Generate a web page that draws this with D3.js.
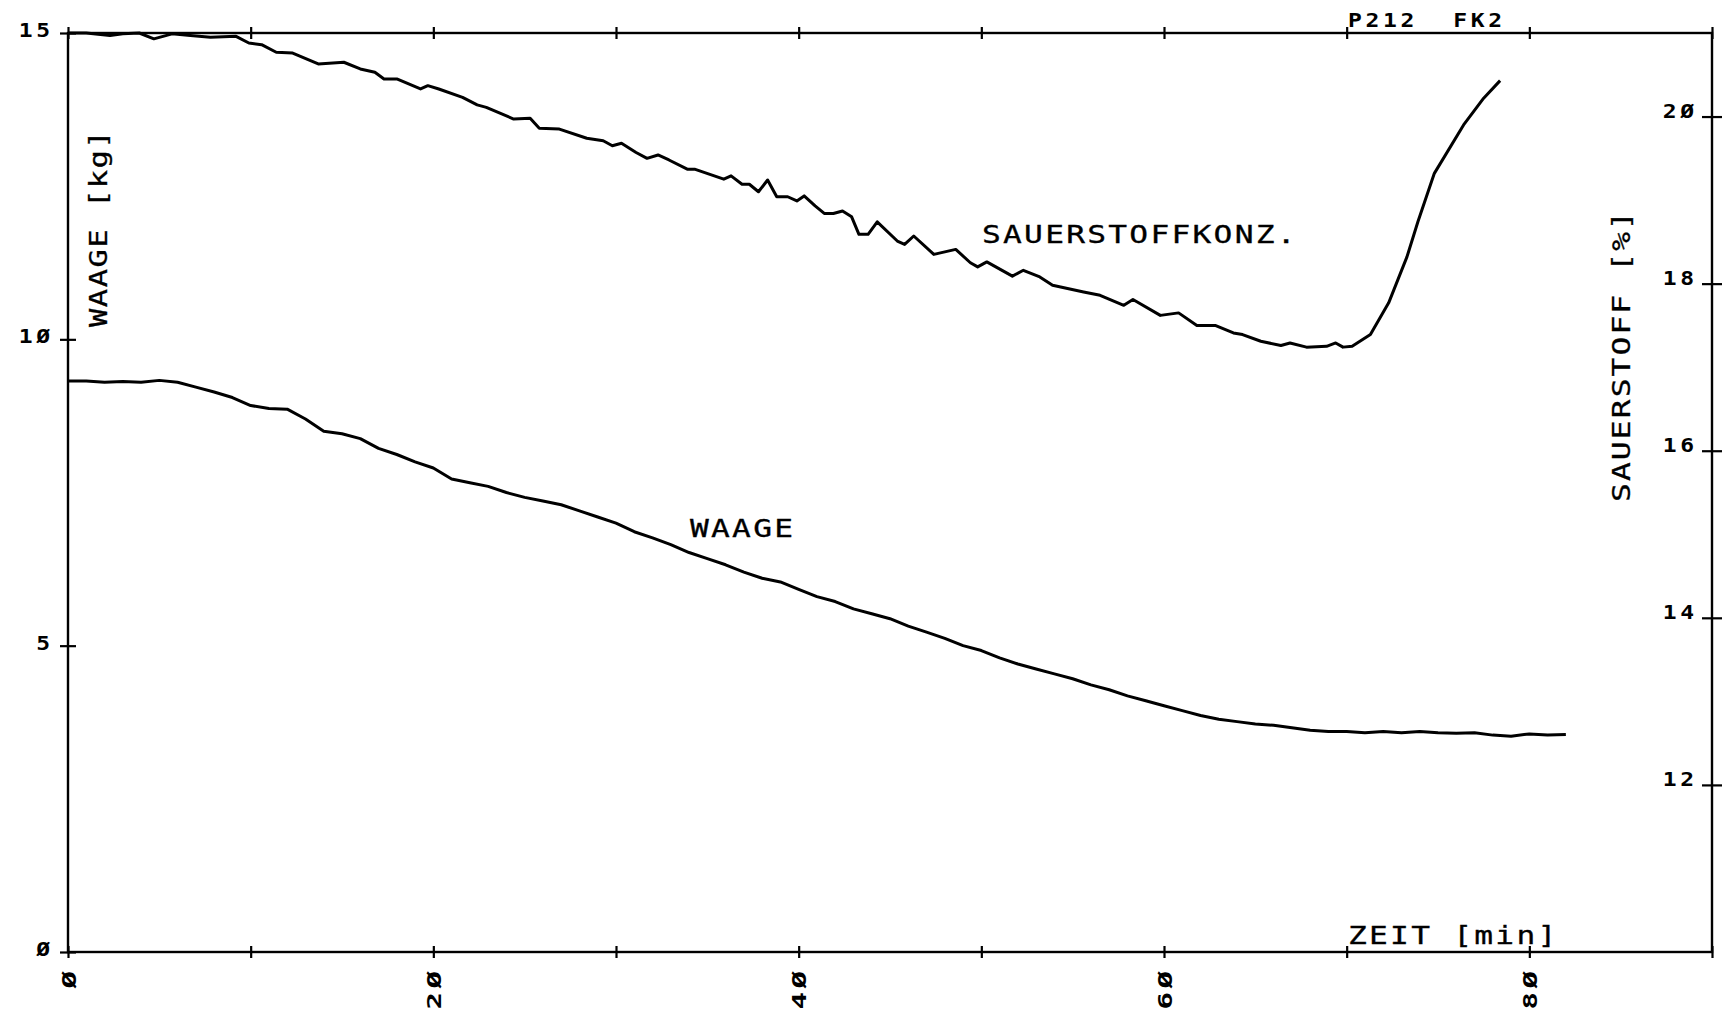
<!DOCTYPE html>
<html>
<head>
<meta charset="utf-8">
<script src="https://cdn.jsdelivr.net/npm/d3@7"></script>
<style>
  body { margin: 0; background: #fff; }
  svg { display: block; }
  text { font-family: "DejaVu Sans Mono", monospace; fill: #000; white-space: pre; }
  .tick line { stroke: #000; stroke-width: 2.2; }
  .tick text { display: none; }
  .domain { display: none; }
</style>
</head>
<body>
<div id="chart"></div>
<script>
// WAAGE [kg] over ZEIT [min]
var waageTime = [0,1,2,3,4,5,6,7,8,9,10,11,12,13,14,15,16,17,18,19,20,21,22,23,24,25,26,27,28,29,
  30,31,32,33,34,35,36,37,38,39,40,41,42,43,44,45,46,47,48,49,50,51,52,53,54,55,56,57,58,59,
  60,61,62,63,64,65,66,67,68,69,70,71,72,73,74,75,76,77,78,79,80,81,82];
var waageKg = [9.32,9.32,9.30,9.31,9.30,9.33,9.30,9.22,9.14,9.05,8.92,8.87,8.86,8.70,8.50,8.46,8.38,8.22,8.12,8.00,
  7.90,7.72,7.66,7.60,7.50,7.42,7.36,7.30,7.20,7.10,7.00,6.86,6.76,6.65,6.52,6.42,6.32,6.20,6.10,6.04,
  5.92,5.80,5.72,5.60,5.52,5.44,5.32,5.22,5.12,5.00,4.92,4.80,4.70,4.62,4.54,4.46,4.36,4.28,4.18,4.10,
  4.02,3.94,3.86,3.80,3.76,3.72,3.70,3.66,3.62,3.60,3.60,3.58,3.60,3.58,3.60,3.58,3.57,3.58,3.54,3.52,
  3.56,3.54,3.55];

// SAUERSTOFF [%] over ZEIT [min]
var o2Time = [0,1.0,2.3,3.0,3.9,4.7,5.7,6.7,7.8,9.2,9.9,10.6,11.4,12.3,13.7,15.1,16.0,16.8,17.3,18.0,
  19.3,19.7,20.3,21.6,22.4,22.9,24.4,25.3,25.8,26.9,28.4,29.3,29.8,30.3,31.1,31.7,32.3,32.9,33.9,34.3,
  35.9,36.3,36.9,37.3,37.8,38.3,38.8,39.4,39.9,40.3,40.9,41.4,41.9,42.4,42.9,43.3,43.8,44.3,45.4,45.8,
  46.3,47.4,48.6,49.4,49.8,50.3,51.7,52.3,53.2,53.9,55.6,56.5,57.8,58.3,59.8,60.8,61.8,62.8,63.8,64.3,
  65.3,66.4,66.9,67.8,68.9,69.4,69.8,70.3,71.3,72.3,73.3,73.9,74.8,76.4,77.5,78.4];
var o2Percent = [21.00,21.00,20.97,20.99,21.00,20.93,20.99,20.97,20.95,20.96,20.88,20.86,20.77,20.76,20.63,20.65,20.57,20.53,20.45,20.45,
  20.33,20.37,20.33,20.23,20.14,20.11,19.97,19.98,19.86,19.85,19.74,19.71,19.65,19.68,19.57,19.50,19.54,19.48,19.37,19.37,
  19.25,19.29,19.19,19.19,19.10,19.24,19.04,19.04,18.99,19.05,18.93,18.84,18.84,18.87,18.80,18.59,18.59,18.74,18.51,18.47,
  18.57,18.35,18.41,18.25,18.20,18.26,18.09,18.16,18.08,17.98,17.90,17.86,17.74,17.81,17.62,17.65,17.50,17.50,17.41,17.39,
  17.31,17.26,17.29,17.24,17.25,17.29,17.24,17.25,17.39,17.77,18.32,18.74,19.32,19.90,20.22,20.43];

// ticks and labels
var minuteTicks = [0,10,20,30,40,50,60,70,80,90];
var minuteLabels = [0,20,40,60,80];
var kgTicks = [0,5,10,15];
var percentTicks = [12,14,16,18,20];

var W = 1731, H = 1016;
var margin = {top: 33, right: 19, bottom: 64, left: 68},
    width = W - margin.left - margin.right,
    height = H - margin.top - margin.bottom;

// plotter style slashed zero
function zero(d) { return String(d).replace(/0/g, "\u00D8"); }

var svg = d3.select("#chart")
  .append("svg")
    .attr("width", W)
    .attr("height", H);

var g = svg.append("g")
    .attr("transform", "translate(" + margin.left + "," + margin.top + ")");

var x = d3.scaleLinear().domain([0, 90]).range([0, width]);
var yKg = d3.scaleLinear().domain([0, 15]).range([height, 0]);
var yO2 = d3.scaleLinear().domain([10, 21]).range([height, 0]);

// frame
g.append("rect")
  .attr("width", width)
  .attr("height", height)
  .attr("fill", "none")
  .attr("stroke", "#000")
  .attr("stroke-width", 2.4);

// crossing tick marks (axis shifted by half the tick length)
g.append("g")
  .attr("transform", "translate(0," + (height - 6) + ")")
  .call(d3.axisBottom(x).tickValues(minuteTicks).tickSize(12).tickSizeOuter(0));
g.append("g")
  .attr("transform", "translate(0,-6)")
  .call(d3.axisBottom(x).tickValues(minuteTicks).tickSize(12).tickSizeOuter(0));
g.append("g")
  .attr("transform", "translate(8,0)")
  .call(d3.axisLeft(yKg).tickValues(kgTicks).tickSize(16).tickSizeOuter(0));
g.append("g")
  .attr("transform", "translate(" + (width - 10) + ",0)")
  .call(d3.axisRight(yO2).tickValues(percentTicks).tickSize(20).tickSizeOuter(0));

// tick labels: bold, stretched a little to look like the plotter font
var tf = {size: 20, sx: 1.15, ls: 3.2};
var trail = tf.ls * tf.sx;
var xf = {size: 20, sx: 1.45, ls: 2.5};

function tickText(sel, f) {
  sel.attr("text-anchor", "end")
    .style("font-size", f.size + "px")
    .style("font-weight", "bold")
    .style("letter-spacing", f.ls + "px")
    .text(zero);
}

g.selectAll(".xlab")
  .data(minuteLabels)
  .enter().append("text")
    .attr("class", "xlab")
    .attr("transform", function(d) {
      return "translate(" + (x(d) + 7.5) + "," + (height + 19 - xf.ls * xf.sx) + ") rotate(-90) scale(" + xf.sx + ",1)";
    })
    .call(tickText, xf);

g.selectAll(".ylab")
  .data(kgTicks)
  .enter().append("text")
    .attr("class", "ylab")
    .attr("transform", function(d) {
      return "translate(" + (-18 + trail) + "," + (yKg(d) + 4) + ") scale(" + tf.sx + ",1)";
    })
    .call(tickText, tf);

g.selectAll(".rlab")
  .data(percentTicks)
  .enter().append("text")
    .attr("class", "rlab")
    .attr("transform", function(d) {
      return "translate(" + (width - 18 + trail) + "," + (yO2(d) + 1) + ") scale(" + tf.sx + ",1)";
    })
    .call(tickText, tf);

// curves
var waageLine = d3.line()
  .x(function(d, i) { return x(waageTime[i]); })
  .y(function(d) { return yKg(d); });

var o2Line = d3.line()
  .x(function(d, i) { return x(o2Time[i]); })
  .y(function(d) { return yO2(d); });

g.append("path")
  .datum(waageKg)
  .attr("d", waageLine)
  .attr("fill", "none")
  .attr("stroke", "#000")
  .attr("stroke-width", 3)
  .attr("stroke-linejoin", "round");

g.append("path")
  .datum(o2Percent)
  .attr("d", o2Line)
  .attr("fill", "none")
  .attr("stroke", "#000")
  .attr("stroke-width", 3)
  .attr("stroke-linejoin", "round");

// labels, widened glyphs
function label(txt, tx, ty, rot, size, sx, ls, weight) {
  svg.append("text")
    .attr("transform", "translate(" + tx + "," + ty + ")" + (rot ? " rotate(" + rot + ")" : "") + " scale(" + sx + ",1)")
    .style("font-size", size + "px")
    .style("letter-spacing", ls + "px")
    .style("font-weight", weight || "normal")
    .style("stroke", "#000")
    .style("stroke-width", weight ? 0 : 0.3)
    .text(txt);
}

label("SAUERSTOFFKONZ.", 982, 243, 0, 25, 1.25, 1.8);
label("WAAGE", 690, 537, 0, 25, 1.25, 1.8);
label("ZEIT [min]", 1348, 944, 0, 25, 1.25, 1.8);
label("WAAGE [kg]", 107, 327, -90, 25, 1.22, 1.2);
label("SAUERSTOFF [%]", 1630, 502, -90, 25, 1.25, 1.7);
label("P212  FK2", 1348, 27, 0, 20, 1.15, 3.2, "bold");
</script>
</body>
</html>
